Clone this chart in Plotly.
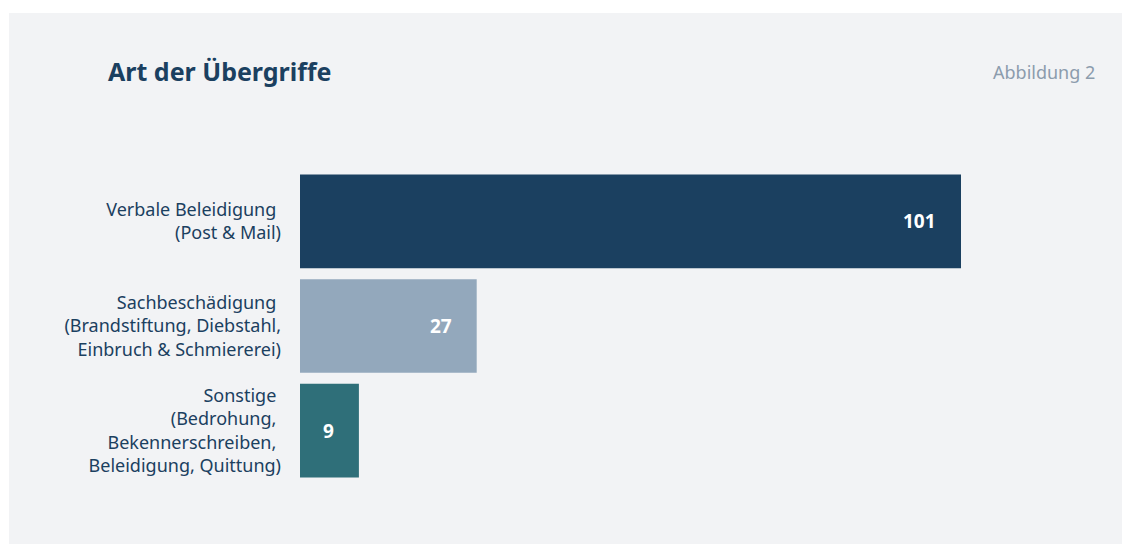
import plotly.graph_objects as go

# data
kategorien = [
    "Verbale Beleidigung <br>(Post & Mail)",
    "Sachbeschädigung <br>(Brandstiftung, Diebstahl,<br>Einbruch & Schmiererei)",
    "Sonstige <br>(Bedrohung, <br>Bekennerschreiben, <br>Beleidigung, Quittung)",
]
werte = [101, 27, 9]
farben = ["#1b4060", "#93a8bc", "#2f6f79"]

font = "Noto Sans, Open Sans, sans-serif"
dunkel = "#1b4060"

fig = go.Figure()
fig.add_trace(go.Bar(
    x=werte, y=kategorien, orientation="h",
    marker=dict(color=farben, line=dict(width=0)),
    hoverinfo="x+y",
))

# Werte in den Balken
for k, w in zip(kategorien, werte):
    fig.add_annotation(x=w, y=k, text="<b>%d</b>" % w, showarrow=False,
                       xanchor="right", xshift=-23,
                       font=dict(family=font, size=19, color="white"))

# Seite hat 8px Rand -> Figur 1122x536, Koordinaten relativ zur Figur
off = 8
W, H = 1130 - off, 544 - off
L, R, T, B = 300 - off, 1096 - off, 168.5 - off, 483.5 - off
pw, ph = R - L, B - T

def px(x):
    return (x - off - L) / pw

def py(y):
    return (B - (y - off)) / ph

# grauer Hintergrund
fig.add_shape(type="rect", xref="paper", yref="paper",
              x0=px(9), x1=px(1140), y0=py(12), y1=py(560),
              fillcolor="#f2f3f5", line=dict(width=0), layer="below")

fig.add_annotation(xref="paper", yref="paper", x=px(106), y=py(70),
                   xanchor="left", yanchor="middle", showarrow=False,
                   text="<b>Art der Übergriffe</b>",
                   font=dict(family=font, size=25, color=dunkel))
fig.add_annotation(xref="paper", yref="paper", x=px(1097), y=py(71),
                   xanchor="right", yanchor="middle", showarrow=False,
                   text="Abbildung 2",
                   font=dict(family=font, size=18, color="#8c9cad"))

fig.update_layout(
    width=W, height=H,
    margin=dict(l=L, r=W - R, t=T, b=H - B, pad=0),
    paper_bgcolor="white", plot_bgcolor="rgba(0,0,0,0)",
    bargap=0.105, showlegend=False,
    font=dict(family=font, size=18, color=dunkel),
)
fig.update_xaxes(range=[0, 101 * pw / 661], visible=False, fixedrange=True)
fig.update_yaxes(autorange="reversed", showgrid=False, zeroline=False,
                 showline=False, ticks="", ticklabelstandoff=18,
                 tickfont=dict(family=font, size=18, color=dunkel))

fig.write_html("out.html")
